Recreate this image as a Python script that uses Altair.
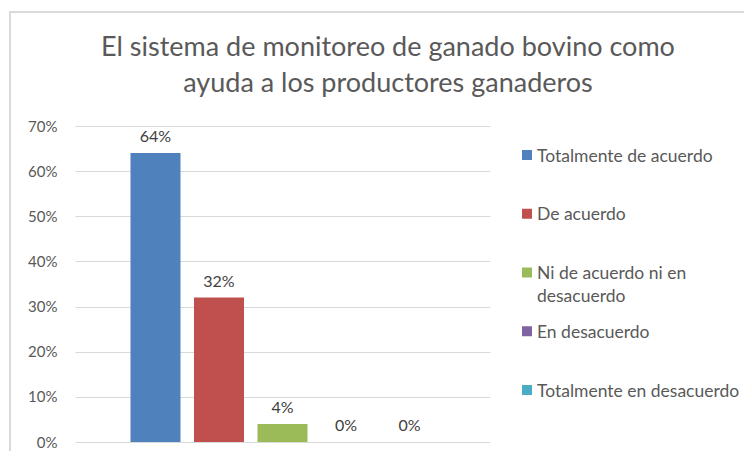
import altair as alt
import pandas as pd

categories = ["Totalmente de acuerdo", "De acuerdo", "Ni de acuerdo ni en desacuerdo",
              "En desacuerdo", "Totalmente en desacuerdo"]
legend_text = ["Totalmente de acuerdo", "De acuerdo", "Ni de acuerdo ni en\ndesacuerdo",
               "En desacuerdo", "Totalmente en desacuerdo"]
values = [0.64, 0.32, 0.04, 0.0, 0.0]
colors = ["#4F81BD", "#C0504D", "#9BBB59", "#8064A2", "#4BACC6"]
title_text = "El sistema de monitoreo de ganado bovino como\nayuda a los productores ganaderos"

df = pd.DataFrame({"cat": categories, "val": values, "leg": legend_text,
                   "lbl": [f"{round(v*100)}%" for v in values]})
title_df = pd.DataFrame({"t": [title_text]})

FONT = "Lato"
TXT = "#595959"

color = alt.Color("cat:N", sort=categories,
                  scale=alt.Scale(domain=categories, range=colors), legend=None)

x = alt.X("cat:N", sort=categories, axis=None,
          scale=alt.Scale(paddingInner=0.213, paddingOuter=0.874))
y = alt.Y("val:Q", scale=alt.Scale(domain=[0, 0.7]),
          axis=alt.Axis(format=".0%", values=[0, .1, .2, .3, .4, .5, .6, .7],
                        title=None, domain=False, ticks=False, grid=True,
                        gridColor="#D9D9D9", gridWidth=1, labelPadding=18,
                        labelFont=FONT, labelFontSize=15, labelColor=TXT))

border = alt.Chart(df).mark_rect(fill=None, stroke="#D9D9D9", strokeWidth=1.5, clip=False).encode(
    x=alt.value(-65), x2=alt.value(700), y=alt.value(-114), y2=alt.value(400))

title = alt.Chart(title_df).mark_text(align="center", baseline="alphabetic", lineBreak="\n",
                                      lineHeight=36, font=FONT, fontSize=27, color=TXT, clip=False).encode(
    x=alt.value(313), y=alt.value(-70), text="t:N")

bars = alt.Chart(df).mark_bar(size=50).encode(x=x, y=y, color=color)

labels = alt.Chart(df).mark_text(baseline="bottom", dy=-8, font=FONT, fontSize=16, color="#404040").encode(
    x=x, y=alt.Y("val:Q"), text="lbl:N")

main = alt.layer(border, title, bars, labels)

# legend drawn as its own layer (Excel-style legend on the right)
ly = alt.Y("cat:N", sort=categories, axis=None,
           scale=alt.Scale(type="point", domain=categories, range=[29, 264], padding=0))
leg_sym = alt.Chart(df).mark_square(size=100, opacity=1, clip=False).encode(
    x=alt.value(452), y=ly, color=color)
leg_txt = alt.Chart(df).mark_text(align="left", baseline="alphabetic", dy=6.5, lineBreak="\n",
                                  lineHeight=23, font=FONT, fontSize=17.5, color=TXT, clip=False).encode(
    x=alt.value(462), y=ly, text="leg:N")
legend = alt.layer(leg_sym, leg_txt)

chart = alt.layer(main, legend).resolve_scale(y="independent").properties(
    width=415, height=316,
    padding={"left": 67, "top": 118, "right": 254, "bottom": 9},
    autosize=alt.AutoSizeParams(type="none"),
).configure_view(stroke=None)

chart.save("out.html", embed_options={"renderer": "svg", "actions": False})
